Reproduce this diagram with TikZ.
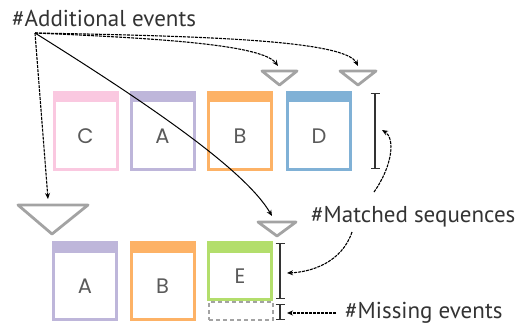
\documentclass[tikz,border=0pt]{standalone}
\usepackage{fontspec}
\setmainfont{PT Sans}
\newfontfamily\boxfont{Poppins}
\usetikzlibrary{arrows.meta}
\definecolor{cpink}{HTML}{FAC8E0}
\definecolor{clav}{HTML}{BEB6DA}
\definecolor{corange}{HTML}{FDB266}
\definecolor{cblue}{HTML}{80B1D6}
\definecolor{cgreen}{HTML}{B3DE6C}
\definecolor{trigray}{HTML}{A3A3A3}
\definecolor{ink}{HTML}{333333}
\definecolor{letterink}{HTML}{5A5A5A}

\begin{document}
\begin{tikzpicture}[x=1pt,y=-1pt,
  evbox/.style={draw=#1, line width=3pt, minimum width=63pt, minimum height=77pt,
    inner sep=0pt, outer sep=0pt,
    path picture={\fill[#1] (path picture bounding box.north west) rectangle
      ([yshift=-10pt]path picture bounding box.north east);}},
  letter/.style={font=\boxfont\fontsize{21}{21}\selectfont, text=letterink, inner sep=0pt},
  lbl/.style={font=\fontsize{23}{25}\selectfont, text=ink, inner sep=0pt},
  tri/.style={draw=trigray, line width=2.8pt, line join=round},
  bar/.style={draw=ink, line width=1.3pt, {Bar[width=9pt]}-{Bar[width=9pt]}},
  conn/.style={draw=black, line width=1.1pt, dash pattern=on 3pt off 1pt,
    -{Stealth[length=6pt,width=5pt]}},
  connsolid/.style={draw=black, line width=1pt, -{Stealth[length=6pt,width=5pt]}},
  missbox/.style={draw=trigray, line width=2pt, dash pattern=on 4pt off 3pt,
    minimum width=64pt, minimum height=18pt, inner sep=0pt, outer sep=0pt}
]
\useasboundingbox (0,0) rectangle (521,327);

% upper sequence
\node[evbox=cpink]   (c1) at (85.5,130.5) {};
\node[evbox=clav]    (a1) at (162.5,130.5) {};
\node[evbox=corange] (b1) at (240,130.5) {};
\node[evbox=cblue]   (d1) at (319,130.5) {};
\node[letter] (lc1) at (85.5,136) {C};
\node[letter] (la1) at (162.5,136) {A};
\node[letter] (lb1) at (240,136) {B};
\node[letter] (ld1) at (319,136) {D};

% lower sequence
\node[evbox=clav]    (a2) at (85,281) {};
\node[evbox=corange] (b2) at (162.5,281) {};
\node[evbox=cgreen, minimum height=57pt] (e2) at (240,271) {};
\node[missbox] (m2box) at (241,311) {};
\node[letter] (la2) at (85,286.5) {A};
\node[letter] (lb2) at (162.5,286.5) {B};
\node[letter] (le2) at (240,276) {E};

% insertion markers
\draw[tri] (262,71) -- (297,71) -- (279.5,85) -- cycle;
\draw[tri] (340,71) -- (376,71) -- (358,85) -- cycle;
\draw[tri] (18,205) -- (88,205) -- (52,234) -- cycle;
\draw[tri] (258,222) -- (296,222) -- (277,236) -- cycle;

% scale bars
\draw[bar] (375,93) -- (375,169);
\draw[bar] (280,243) -- (280,299);
\draw[bar] (280,304) -- (280,320);

% labels
\node[lbl, anchor=base west] (addl) at (12,26) {\#Additional events};
\node[lbl, anchor=base west] (matched) at (311,222) {\#Matched sequences};
\node[lbl, anchor=base west] (missing) at (345,318) {\#Missing events};

% connector end points
\coordinate (src) at (35,33);
\coordinate (t1) at (278,66);
\coordinate (t2) at (358,66);
\coordinate (tbig) at (48,199);
\coordinate (te) at (272,216);
\coordinate (mfrom1) at (374,192);
\coordinate (mto1) at (382,130);
\coordinate (mfrom2) at (352,232);
\coordinate (mto2) at (287,273);
\coordinate (mfrom3) at (336,313);
\coordinate (mto3) at (287,313);

% connectors
\draw[conn] (src) -- (tbig);
\draw[connsolid] (src) .. controls (150,105) and (245,170) .. (te);
\draw[conn] (src) .. controls (150,38) and (262,44) .. (t1);
\draw[conn] (src) .. controls (200,36) and (345,40) .. (t2);
\draw[conn] (mfrom1) .. controls (393,165) and (395,138) .. (mto1);
\draw[conn] (mfrom2) .. controls (342,262) and (312,272) .. (mto2);
\draw[conn] (mfrom3) -- (mto3);
\end{tikzpicture}
\end{document}
